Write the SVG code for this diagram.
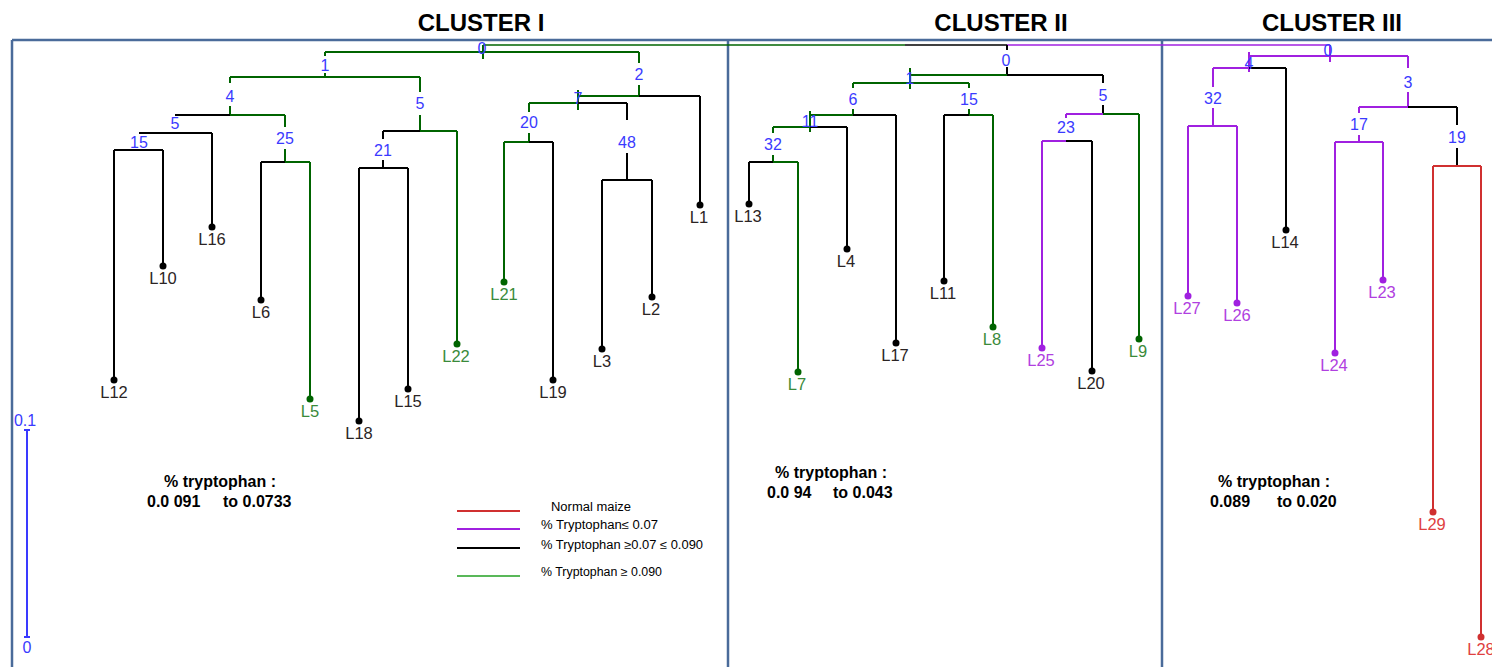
<svg xmlns="http://www.w3.org/2000/svg" width="1492" height="667" viewBox="0 0 1492 667">
  <style>
    .frame { stroke: #4a6b9a; stroke-width: 2.5; fill: none; }
    .g { stroke: #006400; stroke-width: 2; fill: none; }
    .k { stroke: #000000; stroke-width: 2; fill: none; }
    .p { stroke: #a020e0; stroke-width: 2; fill: none; }
    .r { stroke: #d03030; stroke-width: 2; fill: none; }
    .thin { stroke-width: 1.3; }
    .dg { fill: #006400; } .dk { fill: #000000; } .dp { fill: #a020e0; } .dr { fill: #d03030; }
    text { font-family: "Liberation Sans", Arial, sans-serif; }
    .head { font-size: 24px; font-weight: bold; fill: #000; text-anchor: middle; }
    .num { font-size: 16px; fill: #3a3aff; text-anchor: middle; }
    .leaf { font-size: 16.5px; text-anchor: middle; }
    .lk { fill: #2b2424; } .lg { fill: #3a8a3a; } .lp { fill: #b040e0; } .lr { fill: #e04040; }
    .info { font-size: 16px; font-weight: bold; fill: #000; }
    .leg { font-size: 12px; fill: #000; }
  </style>

  <!-- headings -->
  <text class="head" x="481" y="31">CLUSTER I</text>
  <text class="head" x="1001" y="31">CLUSTER II</text>
  <text class="head" x="1332" y="31">CLUSTER III</text>

  <!-- frame and cluster dividers -->
  <g id="frame">
    <path class="frame" d="M12 40 H1492 M12 40 V667 M728 40 V667 M1162 40 V667"/>
  </g>

  <!-- connectors: dendrogram branches -->
  <g id="connectors">
    <!-- link joining the three cluster roots -->
    <path class="g thin" d="M483 45 H905"/>
    <path class="k thin" d="M905 45 H1007"/>
    <path class="p thin" d="M1007 45 H1330"/>

    <!-- cluster I -->
    <path class="g" d="M483 45 V59 M325 52 H639"/>
    <path class="g" d="M325 52 V56 M325 73 V77 M230 77 H420"/>
    <path class="g" d="M230 77 V83 M230 106 V115 M230 115 H285"/>
    <path class="k" d="M175 115 H230"/>
    <path class="k" d="M139 133 H212 M114 150 H163"/>
    <path class="k" d="M114 150 V380 M163 150 V266 M212 133 V227"/>
    <path class="g" d="M285 115 V127 M285 149 V162 M285 162 H310 M310 162 V399"/>
    <path class="k" d="M261 162 H285 M261 162 V300"/>
    <path class="g" d="M420 77 V92 M420 115 V131 M420 131 H457 M457 131 V344"/>
    <path class="k" d="M383 131 H420 M383 131 V139 M383 160 V168 M359 168 H408 M359 168 V421 M408 168 V389"/>
    <path class="g" d="M639 52 V63 M639 85 V96 M578 96 H639"/>
    <path class="k" d="M639 96 H700 M700 96 V205"/>
    <path class="g" d="M578 90 V110 M529 103 H578 M529 103 V112 M529 133 V142 M504 142 H529 M504 142 V282"/>
    <path class="k" d="M578 103 H627 M529 142 H553 M553 142 V380"/>
    <path class="k" d="M627 103 V120 M627 153 V180 M602 180 H652 M602 180 V349 M652 180 V297"/>

    <!-- cluster II -->
    <path class="k" d="M1007 45 V50 M1007 67 V75 M1007 75 H1103 M1103 75 V83 M1103 105 V114"/>
    <path class="g" d="M910 75 H1007 M910 68 V89 M853 83 H969"/>
    <path class="g" d="M853 83 V88 M853 109 V115 M810 115 H853 M810 111 V132 M773 127 H810"/>
    <path class="k" d="M853 115 H896 M896 115 V343 M810 127 H847 M847 127 V249"/>
    <path class="g" d="M773 127 V133 M773 155 V162 M773 162 H798 M798 162 V372"/>
    <path class="k" d="M749 162 H773 M749 162 V204"/>
    <path class="g" d="M969 83 V88 M969 109 V115 M969 115 H993 M993 115 V327"/>
    <path class="k" d="M944 115 H969 M944 115 V281"/>
    <path class="g" d="M1103 114 H1139 M1139 114 V339"/>
    <path class="p" d="M1066 114 H1103 M1066 114 V118 M1042 141 H1066 M1042 141 V348"/>
    <path class="k" d="M1066 141 H1092 M1092 141 V371"/>

    <!-- cluster III -->
    <path class="p" d="M1330 45 V62 M1249 56 H1408 M1249 52 V72 M1213 68 H1249"/>
    <path class="k" d="M1249 68 H1286 M1286 68 V230"/>
    <path class="p" d="M1213 68 V87 M1213 108 V126 M1188 126 H1237 M1188 126 V296 M1237 126 V303"/>
    <path class="p" d="M1408 56 V68 M1408 92 V107 M1359 107 H1408 M1359 107 V113 M1359 135 V142 M1335 142 H1383 M1335 142 V353 M1383 142 V280"/>
    <path class="k" d="M1408 107 H1457 M1457 107 V125 M1457 148 V166"/>
    <path class="r" d="M1433 166 H1481 M1433 166 V512 M1481 166 V637"/>
  </g>

  <!-- internal node labels -->
  <g id="node-labels">
    <text class="num" x="482" y="54">0</text>
    <text class="num" x="325" y="71">1</text>
    <text class="num" x="230" y="102">4</text>
    <text class="num" x="175" y="129">5</text>
    <text class="num" x="139" y="148">15</text>
    <text class="num" x="285" y="144">25</text>
    <text class="num" x="420" y="109">5</text>
    <text class="num" x="383" y="156">21</text>
    <text class="num" x="639" y="80">2</text>
    <text class="num" x="578" y="104">7</text>
    <text class="num" x="529" y="128">20</text>
    <text class="num" x="627" y="148">48</text>

    <text class="num" x="1006" y="66">0</text>
    <text class="num" x="910" y="84">1</text>
    <text class="num" x="853" y="105">6</text>
    <text class="num" x="969" y="105">15</text>
    <text class="num" x="810" y="127">11</text>
    <text class="num" x="773" y="150">32</text>
    <text class="num" x="1103" y="101">5</text>
    <text class="num" x="1066" y="133">23</text>

    <text class="num" x="1328" y="56">0</text>
    <text class="num" x="1249" y="69">4</text>
    <text class="num" x="1213" y="104">32</text>
    <text class="num" x="1408" y="88">3</text>
    <text class="num" x="1359" y="130">17</text>
    <text class="num" x="1457" y="143">19</text>
  </g>

  <!-- leaves: dot and line name -->
  <g id="L12"><circle class="dk" cx="114" cy="380" r="3.5"/><text class="leaf lk" x="114" y="398">L12</text></g>
  <g id="L10"><circle class="dk" cx="163" cy="266" r="3.5"/><text class="leaf lk" x="163" y="284">L10</text></g>
  <g id="L16"><circle class="dk" cx="212" cy="227" r="3.5"/><text class="leaf lk" x="212" y="245">L16</text></g>
  <g id="L6"><circle class="dk" cx="261" cy="300" r="3.5"/><text class="leaf lk" x="261" y="318">L6</text></g>
  <g id="L5"><circle class="dg" cx="310" cy="399" r="3.5"/><text class="leaf lg" x="310" y="417">L5</text></g>
  <g id="L18"><circle class="dk" cx="359" cy="421" r="3.5"/><text class="leaf lk" x="359" y="439">L18</text></g>
  <g id="L15"><circle class="dk" cx="408" cy="389" r="3.5"/><text class="leaf lk" x="408" y="407">L15</text></g>
  <g id="L22"><circle class="dg" cx="457" cy="344" r="3.5"/><text class="leaf lg" x="456" y="362">L22</text></g>
  <g id="L21"><circle class="dg" cx="504" cy="282" r="3.5"/><text class="leaf lg" x="504" y="300">L21</text></g>
  <g id="L19"><circle class="dk" cx="553" cy="380" r="3.5"/><text class="leaf lk" x="553" y="398">L19</text></g>
  <g id="L3"><circle class="dk" cx="602" cy="349" r="3.5"/><text class="leaf lk" x="602" y="367">L3</text></g>
  <g id="L2"><circle class="dk" cx="652" cy="297" r="3.5"/><text class="leaf lk" x="651" y="315">L2</text></g>
  <g id="L1"><circle class="dk" cx="700" cy="205" r="3.5"/><text class="leaf lk" x="699" y="223">L1</text></g>

  <g id="L13"><circle class="dk" cx="749" cy="204" r="3.5"/><text class="leaf lk" x="748" y="222">L13</text></g>
  <g id="L7"><circle class="dg" cx="798" cy="372" r="3.5"/><text class="leaf lg" x="797" y="390">L7</text></g>
  <g id="L4"><circle class="dk" cx="847" cy="249" r="3.5"/><text class="leaf lk" x="846" y="267">L4</text></g>
  <g id="L17"><circle class="dk" cx="896" cy="343" r="3.5"/><text class="leaf lk" x="895" y="361">L17</text></g>
  <g id="L11"><circle class="dk" cx="944" cy="281" r="3.5"/><text class="leaf lk" x="943" y="299">L11</text></g>
  <g id="L8"><circle class="dg" cx="993" cy="327" r="3.5"/><text class="leaf lg" x="992" y="345">L8</text></g>
  <g id="L25"><circle class="dp" cx="1042" cy="348" r="3.5"/><text class="leaf lp" x="1041" y="366">L25</text></g>
  <g id="L20"><circle class="dk" cx="1092" cy="371" r="3.5"/><text class="leaf lk" x="1091" y="389">L20</text></g>
  <g id="L9"><circle class="dg" cx="1139" cy="339" r="3.5"/><text class="leaf lg" x="1138" y="357">L9</text></g>

  <g id="L27"><circle class="dp" cx="1188" cy="296" r="3.5"/><text class="leaf lp" x="1187" y="314">L27</text></g>
  <g id="L26"><circle class="dp" cx="1237" cy="303" r="3.5"/><text class="leaf lp" x="1237" y="321">L26</text></g>
  <g id="L14"><circle class="dk" cx="1286" cy="230" r="3.5"/><text class="leaf lk" x="1285" y="248">L14</text></g>
  <g id="L24"><circle class="dp" cx="1335" cy="353" r="3.5"/><text class="leaf lp" x="1334" y="371">L24</text></g>
  <g id="L23"><circle class="dp" cx="1383" cy="280" r="3.5"/><text class="leaf lp" x="1382" y="298">L23</text></g>
  <g id="L29"><circle class="dr" cx="1433" cy="512" r="3.5"/><text class="leaf lr" x="1432" y="530">L29</text></g>
  <g id="L28"><circle class="dr" cx="1481" cy="637" r="3.5"/><text class="leaf lr" x="1481" y="655">L28</text></g>

  <!-- scale bar -->
  <g id="scale">
    <text class="num" x="25" y="426">0.1</text>
    <path stroke="#3a3aff" stroke-width="2" fill="none" d="M24 430 H30 M27 430 V637 M24 637 H30"/>
    <text class="num" x="27" y="653">0</text>
  </g>

  <!-- tryptophan ranges per cluster -->
  <g id="range-I">
    <text class="info" x="220" y="487" text-anchor="middle">% tryptophan :</text>
    <text class="info" y="507"><tspan x="147">0.0 091</tspan><tspan x="223">to 0.0733</tspan></text>
  </g>
  <g id="range-II">
    <text class="info" x="831" y="478" text-anchor="middle">% tryptophan :</text>
    <text class="info" y="498"><tspan x="767">0.0 94</tspan><tspan x="833">to 0.043</tspan></text>
  </g>
  <g id="range-III">
    <text class="info" x="1274" y="487" text-anchor="middle">% tryptophan :</text>
    <text class="info" y="507"><tspan x="1210">0.089</tspan><tspan x="1277">to 0.020</tspan></text>
  </g>

  <!-- legend -->
  <g id="legend">
    <path class="r" stroke-width="1.5" d="M457 511 H520"/>
    <path class="p" stroke-width="1.5" d="M457 529 H520"/>
    <path class="k" stroke-width="1.5" d="M457 548 H520"/>
    <path stroke="#22a022" stroke-width="1.5" d="M457 576 H520"/>
    <text class="leg" x="551" y="511" textLength="80" lengthAdjust="spacingAndGlyphs">Normal maize</text>
    <text class="leg" x="541" y="529" textLength="117" lengthAdjust="spacingAndGlyphs">% Tryptophan≤ 0.07</text>
    <text class="leg" x="541" y="549" textLength="162" lengthAdjust="spacingAndGlyphs">% Tryptophan ≥0.07 ≤ 0.090</text>
    <text class="leg" x="541" y="576" textLength="121" lengthAdjust="spacingAndGlyphs">% Tryptophan ≥ 0.090</text>
  </g>
</svg>
